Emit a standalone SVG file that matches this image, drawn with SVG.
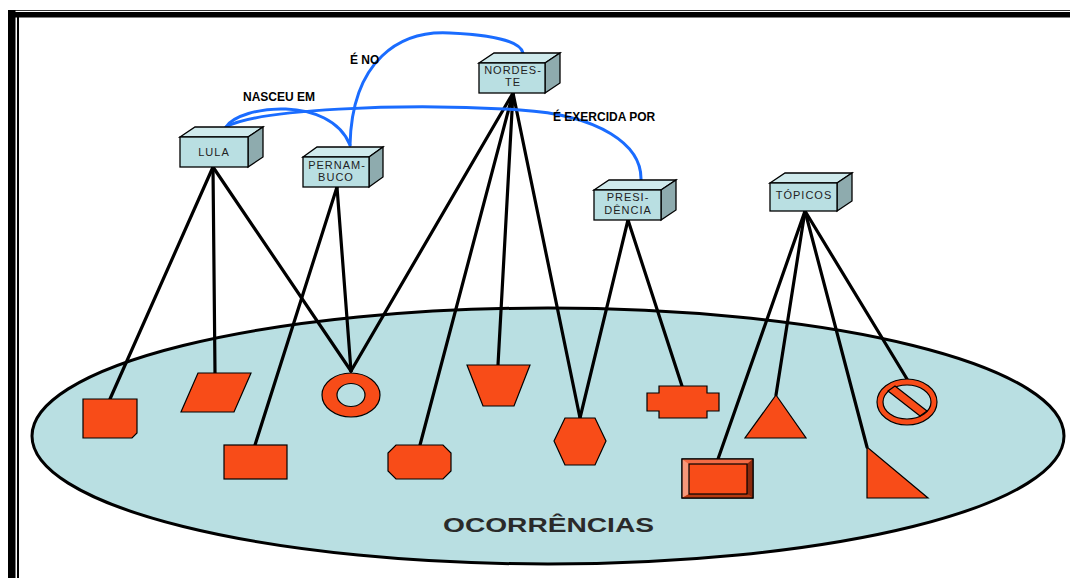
<svg xmlns="http://www.w3.org/2000/svg" width="1070" height="578" viewBox="0 0 1070 578">
<style>
.front{fill:#b9dfe2;stroke:#000;stroke-width:1.3}
.top{fill:#cfeaec;stroke:#000;stroke-width:1.3}
.side{fill:#8eabae;stroke:#000;stroke-width:1.3}
.bt{font-family:"Liberation Sans",Arial,sans-serif;font-size:11px;letter-spacing:1px;fill:#222;text-anchor:middle}
.rel{fill:none;stroke:#1a6cff;stroke-width:3;stroke-linecap:round}
.lbl{font-family:"Liberation Sans",Arial,sans-serif;font-size:12px;font-weight:bold;fill:#000}
.lk{stroke:#000;stroke-width:3.2;stroke-linecap:round}
.sh{fill:#f84c18;stroke:#000;stroke-width:1.2}
</style>
<rect x="0" y="0" width="1070" height="578" fill="#fff"/>
<g id="frame">
<line x1="8" y1="10.5" x2="1070" y2="10.5" stroke="#333" stroke-width="1"/>
<rect x="8" y="12" width="1062" height="5.5" fill="#000"/>
<rect x="8" y="10" width="7.5" height="568" fill="#000"/>
<rect x="17" y="17" width="2" height="561" fill="#000"/>
</g>
<g id="ocorrencias">
<ellipse cx="548" cy="436" rx="516" ry="128" fill="#b9dfe2" stroke="#000" stroke-width="3"/>
<text x="443" y="532" font-family="'Liberation Sans',Arial,sans-serif" font-size="20" font-weight="bold" fill="#2a2a2a" textLength="211" lengthAdjust="spacingAndGlyphs">OCORRÊNCIAS</text>
</g>
<g id="connectors">
<line class="lk" x1="213" y1="167" x2="110" y2="399"/>
<line class="lk" x1="213" y1="167" x2="215" y2="373"/>
<line class="lk" x1="213" y1="167" x2="351" y2="371"/>
<line class="lk" x1="337" y1="187" x2="255" y2="445"/>
<line class="lk" x1="337" y1="187" x2="351" y2="371"/>
<line class="lk" x1="513" y1="93" x2="351" y2="371"/>
<line class="lk" x1="513" y1="93" x2="420" y2="445"/>
<line class="lk" x1="513" y1="93" x2="498" y2="365"/>
<line class="lk" x1="513" y1="93" x2="580" y2="418"/>
<line class="lk" x1="628" y1="220" x2="580" y2="418"/>
<line class="lk" x1="628" y1="220" x2="682" y2="386"/>
<line class="lk" x1="805" y1="211" x2="718" y2="459"/>
<line class="lk" x1="805" y1="211" x2="776" y2="395"/>
<line class="lk" x1="805" y1="211" x2="867" y2="447"/>
<line class="lk" x1="805" y1="211" x2="907" y2="379"/>
<path class="rel" d="M226,127 C240,105 330,95 350,145"/>
<path class="rel" d="M226,127 C255,110 400,102 520,110 C600,115 642,145 641,180"/>
<path class="rel" d="M350,145 C352,60 400,30 450,33 C490,35 520,40 523,53"/>
<text class="lbl" x="243" y="101">NASCEU EM</text>
<text class="lbl" x="350" y="64">É NO</text>
<text class="lbl" x="553" y="121">É EXERCIDA POR</text>
</g>
<g id="lula">
<polygon class="top" points="180,137 195,127 263,127 248,137"/>
<polygon class="side" points="248,137 263,127 263,157 248,167"/>
<rect class="front" x="180" y="137" width="68" height="30"/>
<text class="bt" x="214" y="156">LULA</text>
</g>
<g id="pernambuco">
<polygon class="top" points="303,157 317,147 383,147 369,157"/>
<polygon class="side" points="369,157 383,147 383,177 369,187"/>
<rect class="front" x="303" y="157" width="66" height="30"/>
<text class="bt" x="337" y="169">PERNAM-</text>
<text class="bt" x="336" y="181">BUCO</text>
</g>
<g id="nordeste">
<polygon class="top" points="479,63 494,53 560,53 545,63"/>
<polygon class="side" points="545,63 560,53 560,83 545,93"/>
<rect class="front" x="479" y="63" width="66" height="30"/>
<text class="bt" x="513" y="74">NORDES-</text>
<text class="bt" x="513" y="86">TE</text>
</g>
<g id="presidencia">
<polygon class="top" points="594,190 609,180 676,180 661,190"/>
<polygon class="side" points="661,190 676,180 676,210 661,220"/>
<rect class="front" x="594" y="190" width="67" height="30"/>
<text class="bt" x="628" y="201">PRESI-</text>
<text class="bt" x="628" y="214">DÊNCIA</text>
</g>
<g id="topicos">
<polygon class="top" points="770,183 785,173 852,173 837,183"/>
<polygon class="side" points="837,183 852,173 852,201 837,211"/>
<rect class="front" x="770" y="183" width="67" height="28"/>
<text class="bt" x="804" y="199">TÓPICOS</text>
</g>
<g id="occ-square1"><path class="sh" d="M83,399 H137 V433 L132,438 H83 Z"/></g>
<g id="occ-parallelogram"><polygon class="sh" points="198,373 251,373 234,412 181,412"/></g>
<g id="occ-square2"><rect class="sh" x="224" y="445" width="63" height="34"/></g>
<g id="occ-ring"><path class="sh" fill-rule="evenodd" d="M322,395 A29,22 0 1,0 380,395 A29,22 0 1,0 322,395 Z M337,395 A14,11.5 0 1,1 365,395 A14,11.5 0 1,1 337,395 Z"/></g>
<g id="occ-trapezoid"><polygon class="sh" points="467,365 530,365 514,406 483,406"/></g>
<g id="occ-octagon"><polygon class="sh" points="396,445 443,445 451,453 451,471 443,479 396,479 388,471 388,453"/></g>
<g id="occ-hexagon"><polygon class="sh" points="565,418 595,418 606,441 595,465 565,465 554,441"/></g>
<g id="occ-cross"><path class="sh" d="M659,386 H707 V393 H719 V411 H707 V418 H659 V411 H647 V393 H659 Z"/></g>
<g id="occ-triangle"><polygon class="sh" points="776,395 806,438 745,438"/></g>
<g id="occ-button">
<rect x="682" y="459" width="71" height="39" fill="#f84c18" stroke="#000" stroke-width="1.2"/>
<polygon points="682,459 753,459 747,464 689,464" fill="#f26b45"/>
<polygon points="682,459 689,464 689,494 682,498" fill="#f7987a"/>
<polygon points="753,459 753,498 747,494 747,464" fill="#8b2a0d"/>
<polygon points="682,498 753,498 747,494 689,494" fill="#b53a12"/>
<rect x="682" y="459" width="71" height="39" fill="none" stroke="#000" stroke-width="1.2"/>
<rect class="sh" x="689" y="464" width="58" height="30"/>
</g>
<g id="occ-right-triangle"><polygon class="sh" points="867,447 867,498 928,498"/></g>
<g id="occ-prohibited">
<path class="sh" fill-rule="evenodd" d="M877,402 A30,23 0 1,0 937,402 A30,23 0 1,0 877,402 Z M883,402 A24,17 0 1,1 931,402 A24,17 0 1,1 883,402 Z"/>
<polygon class="sh" points="888,391 895,386 927,411 920,416"/>
</g>
</svg>
